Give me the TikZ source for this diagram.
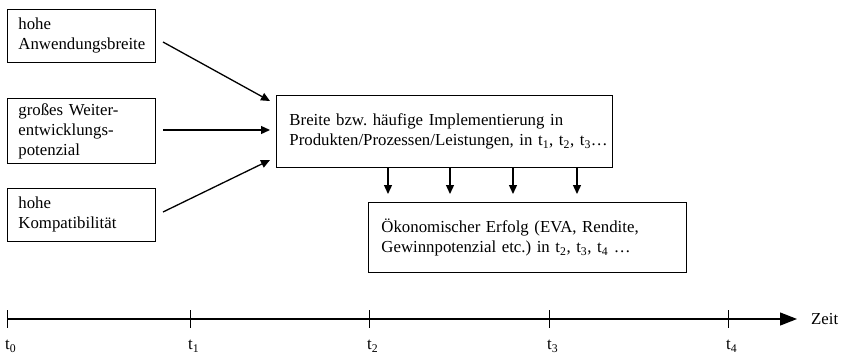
\documentclass[tikz,border=0pt]{standalone}
\usepackage{fontspec}
\setmainfont{Liberation Serif}
\usetikzlibrary{arrows.meta}
\frenchspacing
\begin{document}
\begin{tikzpicture}[x=1pt,y=-1pt,
  txt/.style={font=\fontsize{16.8}{20}\selectfont},
  box/.style={draw,line width=0.9pt,anchor=north west,align=left,txt,inner xsep=11pt,inner ysep=0pt},
  flow/.style={line width=1.3pt,-{Triangle[length=9pt,width=8pt]}},
  tick/.style={line width=0.9pt},
  tlabel/.style={txt,inner sep=0pt}]
\useasboundingbox (0,0) rectangle (844,354);
% factors on the left
\node[box,text width=126pt,minimum height=53pt] (a) at (7,9) {hohe\\Anwendungsbreite};
\node[box,text width=126pt,minimum height=65pt] (b) at (7,98) {großes Weiter-\\entwicklungs-\\potenzial};
\node[box,text width=126pt,minimum height=53pt] (c) at (7,188) {hohe\\Kompatibilität};
% implementation and success
\node[box,inner xsep=13pt,text width=310pt,minimum height=72pt] (impl) at (276,95) {\mbox{Breite bzw. häufige Implementierung in}\\\mbox{Produkten/Prozessen/Leistungen, in t\textsubscript{1}, t\textsubscript{2}, t\textsubscript{3}…}};
\node[box,inner xsep=13pt,text width=292pt,minimum height=70pt] (succ) at (368,202) {\mbox{Ökonomischer Erfolg (EVA, Rendite,}\\\mbox{Gewinnpotenzial etc.) in t\textsubscript{2}, t\textsubscript{3}, t\textsubscript{4} …}};
% arrows into the implementation box
\coordinate (ia) at (270,101);
\coordinate (ib) at (270,130);
\coordinate (ic) at (270,160);
\draw[flow] (163,42) coordinate (oa) -- (ia);
\draw[flow] (163,130) coordinate (ob) -- (ib);
\draw[flow] (163,212) coordinate (oc) -- (ic);
% arrows down towards the success box
\foreach \i/\x in {1/388,2/450,3/513,4/577}{
  \coordinate (d\i) at (\x,194);
  \draw[flow] (impl.south -| d\i) -- (d\i);
}
% time axis
\coordinate (t0) at (7,319);
\coordinate (t1) at (190,319);
\coordinate (t2) at (369,319);
\coordinate (t3) at (549,319);
\coordinate (t4) at (728,319);
\coordinate (tend) at (797,319);
\draw[line width=1.3pt,-{Triangle[length=17pt,width=13pt]}] (t0) -- (tend);
\foreach \i in {0,...,4}{
  \draw[tick] ([yshift=9pt]t\i) -- ([yshift=-9pt]t\i);
  \node[tlabel,anchor=north west] (l\i) at ([xshift=-2pt,yshift=-21pt]t\i) {t\textsubscript{\i}};
}
\node[tlabel,anchor=west] (zeit) at (811,319) {Zeit};
\end{tikzpicture}
\end{document}
